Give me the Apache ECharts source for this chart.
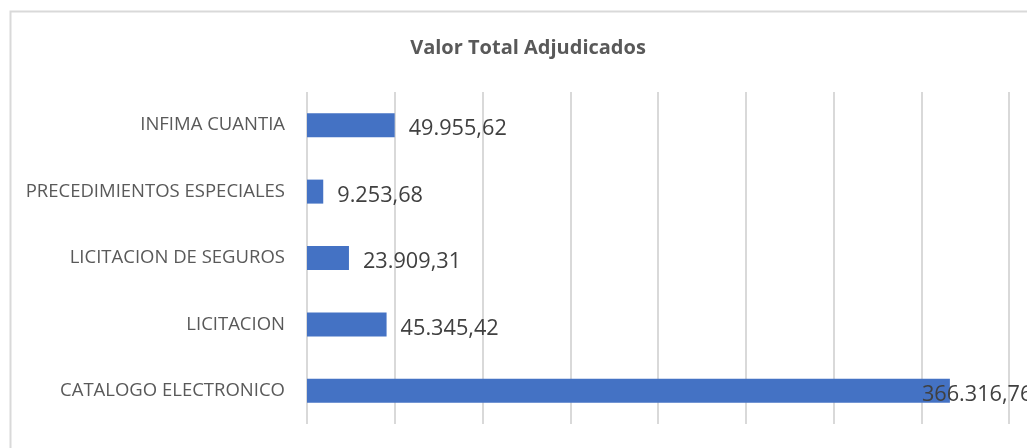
<!DOCTYPE html>
<html>
<head>
<meta charset="utf-8">
<title>Valor Total Adjudicados</title>
<script src="https://cdn.jsdelivr.net/npm/echarts@6/dist/echarts.min.js"></script>
<style>
  html, body { margin: 0; padding: 0; background: #fff; }
  #chart { width: 1027px; height: 448px; }
</style>
</head>
<body>
<div id="chart"></div>
<script>
// categorias (de abajo hacia arriba, como en el eje)
const categorias = [
  'CATALOGO ELECTRONICO',
  'LICITACION',
  'LICITACION DE SEGUROS',
  'PRECEDIMIENTOS ESPECIALES',
  'INFIMA CUANTIA'
];

// valores adjudicados
const valores = [366316.76, 45345.42, 23909.31, 9253.68, 49955.62];

// formato es: 49.955,62
const formatoValor = (v) => {
  const partes = v.toFixed(2).split('.');
  const entero = partes[0].replace(/\B(?=(\d{3})+(?!\d))/g, '.');
  return entero + ',' + partes[1];
};

const chart = echarts.init(document.getElementById('chart'));

const option = {
  animation: false,
  textStyle: { fontFamily: '"Open Sans", sans-serif' },
  title: {
    text: 'Valor Total Adjudicados',
    left: 523,
    top: 33,
    textAlign: 'center',
    textStyle: {
      color: '#595959',
      fontSize: 20,
      fontWeight: 'bold',
      fontFamily: '"Open Sans", sans-serif'
    }
  },
  // marco del grafico
  graphic: [{
    type: 'rect',
    left: 8,
    top: 9,
    shape: { width: 1040, height: 460 },
    style: { fill: 'none', stroke: '#D9D9D9', lineWidth: 2 },
    silent: true
  }],
  grid: {
    left: 307,
    right: 18,
    top: 92,
    bottom: 24
  },
  xAxis: {
    type: 'value',
    min: 0,
    max: 400000,
    interval: 50000,
    axisLabel: { show: false },
    axisLine: { show: false },
    axisTick: { show: false },
    splitLine: { lineStyle: { color: '#D9D9D9', width: 2 } }
  },
  yAxis: {
    type: 'category',
    data: categorias,
    axisLine: { show: false },
    axisTick: { show: false },
    axisLabel: {
      color: '#595959',
      fontSize: 18.5,
      margin: 22
    }
  },
  series: [{
    type: 'bar',
    barWidth: 24,
    itemStyle: { color: '#4472C4' },
    label: {
      show: true,
      position: 'right',
      distance: 14,
      offset: [0, 4],
      color: '#404040',
      fontSize: 21.7,
      formatter: (p) => formatoValor(p.value)
    },
    data: valores.map((v, i) => i === 0
      ? { value: v, label: { offset: [-42, 4] } }
      : v)
  }]
};

chart.setOption(option);
</script>
</body>
</html>
